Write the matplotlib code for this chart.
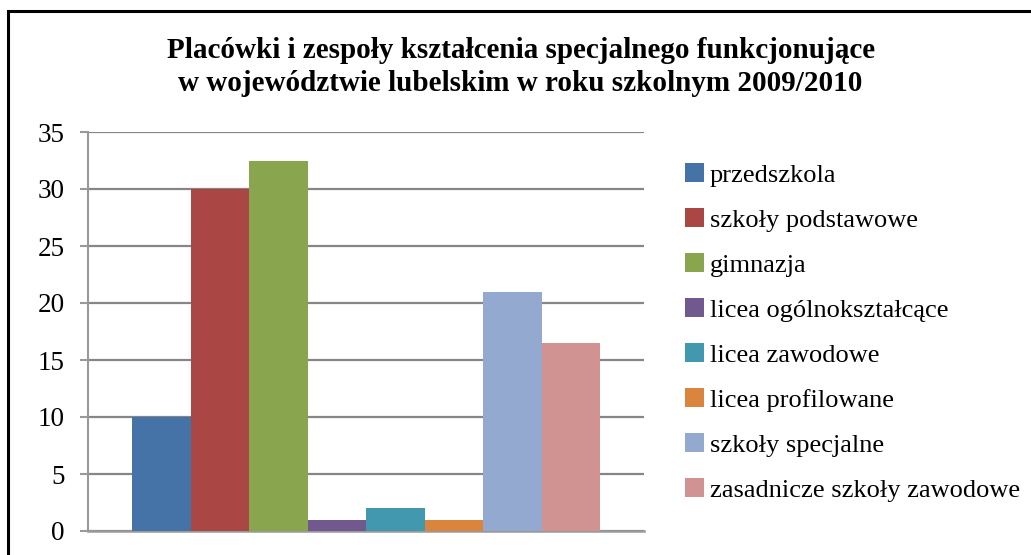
import matplotlib
matplotlib.use("Agg")
import matplotlib.pyplot as plt
from matplotlib.patches import Patch, Rectangle

categories = ["przedszkola", "szkoły podstawowe", "gimnazja", "licea ogólnokształcące",
              "licea zawodowe", "licea profilowane", "szkoły specjalne",
              "zasadnicze szkoły zawodowe"]
values = [10, 30, 32.5, 1, 2, 1, 21, 16.5]
colors = ["#4572A7", "#AA4643", "#89A54E", "#71588F", "#4198AF", "#DB843D", "#93A9CF", "#D19392"]
yticks = [0, 5, 10, 15, 20, 25, 30, 35]
title = "Placówki i zespoły kształcenia specjalnego funkcjonujące\nw województwie lubelskim w roku szkolnym 2009/2010"

plt.rcParams['font.family'] = ['Liberation Serif', 'DejaVu Serif']

W, H = 1031, 555
fig = plt.figure(figsize=(W / 100, H / 100), dpi=100)
ax = fig.add_axes([88 / W, 24 / H, (644 - 88) / W, (531 - 132) / H])

n = len(values)
w = 468 / 556 / n
for i, (v, c) in enumerate(zip(values, colors)):
    ax.bar((i - (n - 1) / 2) * w, v, width=w, color=c, zorder=3)

ax.set_xlim(-0.5, 0.5)
ax.set_ylim(0, 35)
ax.set_yticks(yticks)
ax.set_xticks([])
ax.grid(axis='y', color='#868686', linewidth=1.6, zorder=0)
for s in ['top', 'right']:
    ax.spines[s].set_visible(False)
ax.spines['left'].set_color('#999999')
ax.spines['left'].set_linewidth(1.5)
ax.spines['bottom'].set_color('#999999')
ax.spines['bottom'].set_linewidth(1.8)
ax.tick_params(axis='y', length=6, width=1.5, color='#999999', labelsize=19.5, pad=11)

fig.text(0.505, 1 - 67 / H, title, ha='center', va='center', fontsize=21,
         fontweight='bold', linespacing=1.3)

handles = [Patch(facecolor=c, edgecolor='none') for c in colors]
fig.legend(handles, categories, loc='upper left', bbox_to_anchor=(685 / W, 1 - 163 / H),
           frameon=False, fontsize=19, handlelength=0.72, handleheight=0.72,
           handletextpad=0.22, labelspacing=0.81, borderpad=0, borderaxespad=0)

fig.add_artist(Rectangle((8 / W, -0.1), 1.2, 1.1 - 11 / H + 0.0, transform=fig.transFigure,
                         fill=False, edgecolor='black', linewidth=2.2))

fig.savefig("out.png", dpi=100)
